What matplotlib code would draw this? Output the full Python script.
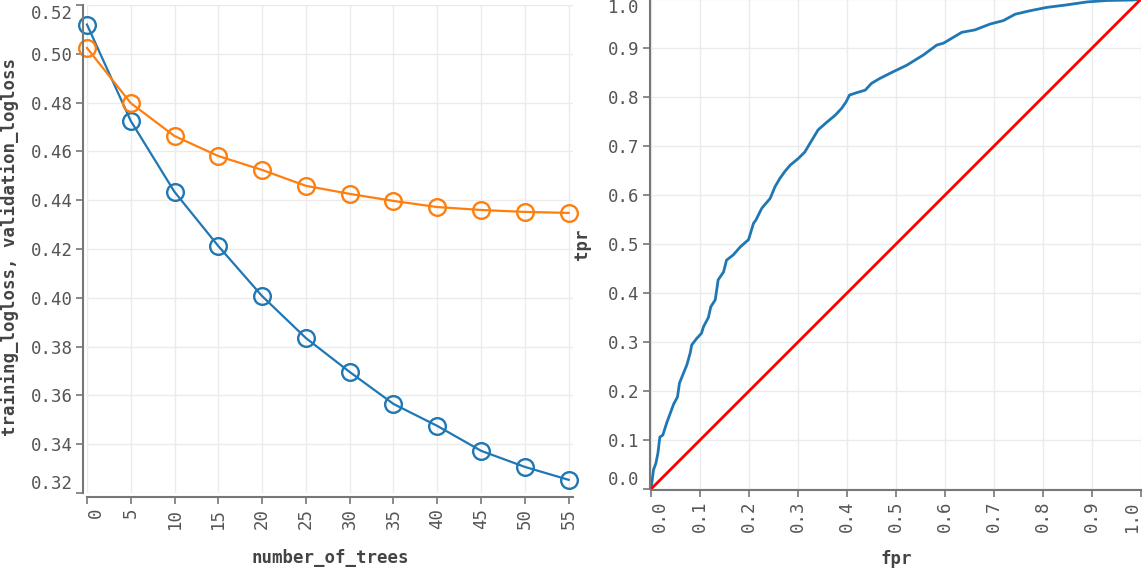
# Training curves + ROC curve, side by side

import matplotlib
matplotlib.use("Agg")
from matplotlib import pyplot as plt


trees = [0, 5, 10, 15, 20, 25, 30, 35, 40, 45, 50, 55]
training_logloss = [0.512, 0.4725, 0.4434, 0.4212, 0.4007, 0.3835,
                    0.3696, 0.3565, 0.3475, 0.3373, 0.3307, 0.3254]
validation_logloss = [0.5024, 0.4798, 0.4663, 0.4581, 0.4524, 0.4459,
                      0.4426, 0.4397, 0.4372, 0.4360, 0.4352, 0.4348]

fpr = [0.0, 0.005, 0.010, 0.014, 0.018, 0.024, 0.032, 0.039, 0.046, 0.054,
       0.058, 0.066, 0.073, 0.080, 0.083, 0.093, 0.103, 0.107, 0.117, 0.122,
       0.131, 0.137, 0.148, 0.154, 0.168, 0.182, 0.199, 0.209, 0.214, 0.226,
       0.243, 0.253, 0.263, 0.273, 0.284, 0.301, 0.314, 0.324, 0.341, 0.358,
       0.376, 0.389, 0.398, 0.405, 0.420, 0.437, 0.450, 0.467, 0.495, 0.522,
       0.556, 0.583, 0.597, 0.634, 0.661, 0.692, 0.719, 0.743, 0.773, 0.808,
       0.848, 0.889, 0.930, 0.984, 1.0]
tpr = [0.0, 0.039, 0.053, 0.073, 0.106, 0.110, 0.135, 0.154, 0.173, 0.188,
       0.216, 0.236, 0.253, 0.278, 0.294, 0.307, 0.318, 0.331, 0.350, 0.372,
       0.386, 0.427, 0.443, 0.467, 0.478, 0.494, 0.509, 0.542, 0.549, 0.573,
       0.593, 0.617, 0.634, 0.648, 0.661, 0.675, 0.688, 0.705, 0.733, 0.748,
       0.763, 0.777, 0.790, 0.804, 0.809, 0.814, 0.828, 0.838, 0.852, 0.865,
       0.886, 0.906, 0.910, 0.932, 0.937, 0.949, 0.956, 0.969, 0.976, 0.983,
       0.988, 0.994, 0.997, 0.998, 1.0]

diag = [0.0, 1.0]

BLUE = '#1f77b4'
ORANGE = '#ff7f0e'
AXIS = '#777777'
TEXT = '#555555'
GRID = '#ebebeb'
MONO = 'DejaVu Sans Mono'
FS = 12.5

plt.rcParams['font.family'] = MONO

fig = plt.figure(figsize=(11.46, 5.71), dpi=100)
ax1 = fig.add_axes([0.0759, 0.1366, 0.4241, 0.8546])
ax2 = fig.add_axes([0.5681, 0.1436, 0.4276, 0.8581])


def style(ax, outward):
    for side in ['top', 'right']:
        ax.spines[side].set_visible(False)
    for side in ['left', 'bottom']:
        ax.spines[side].set_color(AXIS)
        ax.spines[side].set_linewidth(1.5)
        ax.spines[side].set_position(('outward', outward))
    ax.grid(True, color=GRID, linewidth=1)
    ax.set_axisbelow(True)
    ax.tick_params(colors=AXIS, labelcolor=TEXT, labelsize=FS,
                   length=5, width=1.2, pad=2.5)
    ax.tick_params(axis='x', labelrotation=90)


# left: logloss vs number of trees
ax1.plot(trees, training_logloss, color=BLUE, lw=1.6, marker='o',
         markersize=12, markerfacecolor='none', markeredgewidth=1.7,
         clip_on=False)
ax1.plot(trees, validation_logloss, color=ORANGE, lw=1.6, marker='o',
         markersize=12, markerfacecolor='none', markeredgewidth=1.7,
         clip_on=False)
ax1.set_xlim(0, 55.5)
ax1.set_ylim(0.32, 0.52)
ax1.set_xticks(trees)
ax1.set_yticks([0.32, 0.34, 0.36, 0.38, 0.40, 0.42, 0.44, 0.46, 0.48, 0.50, 0.52])
ax1.set_yticklabels(['0.32', '0.34', '0.36', '0.38', '0.40', '0.42', '0.44',
                     '0.46', '0.48', '0.50', '0.52'])
style(ax1, 3)
ax1.set_xlabel('number_of_trees', fontsize=FS, fontweight='bold', color='#444444')
ax1.set_ylabel('training_logloss, validation_logloss', fontsize=FS,
               fontweight='bold', color='#444444')
ax1.xaxis.set_label_coords(0.5, -0.115)
ax1.yaxis.set_label_coords(-0.139, 0.505)

# right: roc curve
ax2.plot(fpr, tpr, color=BLUE, lw=2)
ax2.plot(diag, diag, color='#ff0000', lw=2)
ax2.set_xlim(0, 1)
ax2.set_ylim(0, 1)
ticks = [i / 10 for i in range(11)]
ax2.set_xticks(ticks)
ax2.set_yticks(ticks)
ax2.set_xticklabels([f'{t:.1f}' for t in ticks])
ax2.set_yticklabels([f'{t:.1f}' for t in ticks])
style(ax2, 1)
ax2.set_xlabel('fpr', fontsize=FS, fontweight='bold', color='#444444')
ax2.set_ylabel('tpr', fontsize=FS, fontweight='bold', color='#444444')
ax2.xaxis.set_label_coords(0.5, -0.125)
ax2.yaxis.set_label_coords(-0.123, 0.5)

# flush the end labels inside the axis range
for ax in [ax1, ax2]:
    xl = ax.get_xticklabels()
    yl = ax.get_yticklabels()
    xl[0].set_horizontalalignment('left')
    yl[0].set_verticalalignment('bottom')
    yl[-1].set_verticalalignment('top')
ax2.get_xticklabels()[-1].set_horizontalalignment('right')

plt.savefig('out.png', dpi=100)
